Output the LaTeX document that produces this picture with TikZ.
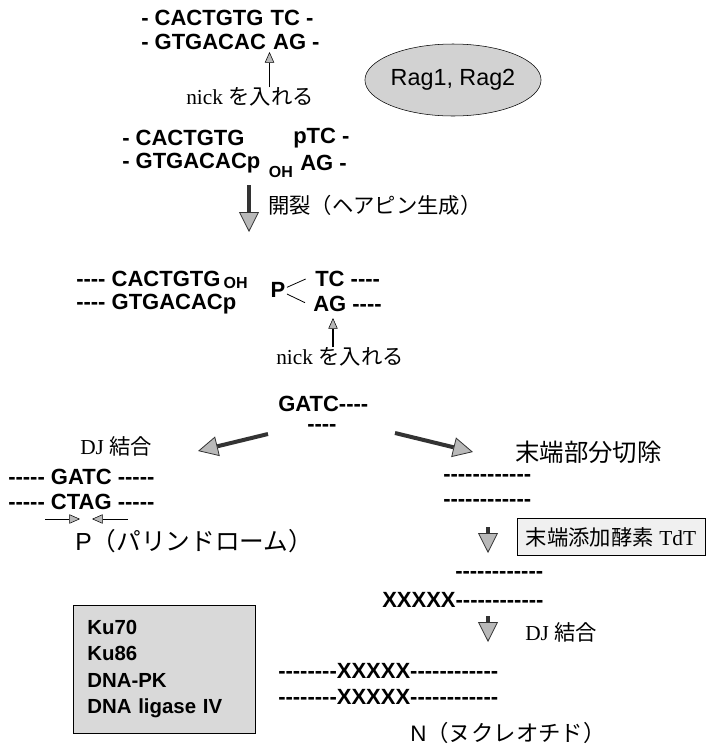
\documentclass[tikz,border=0pt]{standalone}
\usepackage{fontspec}
\setmainfont{Liberation Serif}
\setsansfont{Liberation Sans}[Ligatures=TeXOff]
\newfontfamily\jpfont{Noto Sans CJK JP}
\usetikzlibrary{arrows.meta,shapes.geometric,positioning,calc}

\begin{document}
\begin{tikzpicture}[
    x=0.75pt, y=-0.75pt,
    seq/.style={anchor=west, inner sep=0pt, font=\sffamily\bfseries\fontsize{16.5}{18}\selectfont},
    sub/.style={anchor=west, inner sep=0pt, font=\sffamily\bfseries\fontsize{12}{13}\selectfont},
    jtext/.style={anchor=west, inner sep=0pt, font=\fontsize{16}{18}\selectfont},
    enzbox/.style={rectangle, draw, fill=gray!30, minimum width=136.5pt, minimum height=96pt, text width=115pt, inner xsep=10.5pt, align=left, font=\sffamily\bfseries\fontsize{15.3}{19.7}\selectfont},
    tdtbox/.style={rectangle, draw, fill=gray!12, minimum width=141pt, minimum height=28pt, inner sep=2pt, font=\fontsize{16}{18}\selectfont},
    ragnode/.style={ellipse, draw, fill=gray!35, minimum width=111pt, minimum height=54pt, inner sep=0pt, font=\sffamily\fontsize{17.5}{19}\selectfont},
    bigarrow/.style={line width=3pt, draw=black!80, -{Triangle[length=15pt, width=15pt, fill=gray!55, line width=0.6pt]}},
    nickarrow/.style={line width=0.8pt, -{Triangle[length=8pt, width=7pt, fill=gray!55, line width=0.4pt]}},
    palarrow/.style={line width=0.6pt, -{Triangle[length=8pt, width=7pt, fill=gray!55, line width=0.4pt]}}
]
\useasboundingbox (0,0) rectangle (706,747);

\node[seq] (a1) at (141,18) {- CACTGTG};
\node[seq, right=5pt of a1] (a2) {TC -};
\node[seq] (b1) at (141,42) {- GTGACAC};
\node[seq, right=5pt of b1] (b2) {AG -};
\coordinate (nicktipA) at ($(b1.east)!0.5!(b2.west)+(0,10)$);
\node[jtext, anchor=center] (nickA) at (250,97) {nick {\jpfont を入れる}};
\draw[nickarrow] (nickA.north -| nicktipA) -- (nicktipA);

\node[ragnode] (rag) at (453,80) {Rag1, Rag2};

\node[seq] (c1) at (122,138) {- CACTGTG};
\node[seq] (c2) at (293,138) {pTC -};
\node[seq] (d1) at (122,163) {- GTGACACp};
\node[sub, right=6pt of d1.east, yshift=-7pt] (d1oh) {OH};
\node[seq] (d2) at (300,163) {AG -};

\coordinate (cleavetop) at (249,185);
\coordinate (cleavetip) at (249,232);
\draw[bigarrow] (cleavetop) -- (cleavetip);
\node[jtext] (cleave) at (268,205) {\jpfont 開裂（ヘアピン生成）};

\node[seq] (e1) at (76,279) {---- CACTGTG};
\node[sub, right=2pt of e1.east, yshift=-3pt] (e1oh) {OH};
\node[seq] (f1) at (76,304) {---- GTGACACp};
\node[seq, anchor=center] (pnode) at (278,290) {P};
\node[seq] (e2) at (315,279) {TC ----};
\node[seq] (f2) at (313,304) {AG ----};
\draw[line width=0.6pt] ([xshift=1pt,yshift=2pt]pnode.east) -- ([xshift=-7pt]e2.west);
\draw[line width=0.6pt] ([xshift=1pt,yshift=-3pt]pnode.east) -- ([xshift=-6pt,yshift=1pt]f2.west);
\coordinate (nicktipB) at (333,318);
\node[jtext, anchor=center] (nickB) at (340,357) {nick {\jpfont を入れる}};
\draw[nickarrow] (nickB.north -| nicktipB) -- (nicktipB);

\node[seq] (g1) at (278,404) {GATC----};
\node[seq] (g2) at (307,428) {----};

\coordinate (djtail) at (268,434);
\coordinate (djtip) at (198,451);
\draw[bigarrow] (djtail) -- (djtip);
\coordinate (cuttail) at (395,433);
\coordinate (cuttip) at (473,452);
\draw[bigarrow] (cuttail) -- (cuttip);

\node[jtext] (djleft) at (80,446) {DJ {\jpfont 結合}};
\node[seq] (h1) at (8,477) {----- GATC -----};
\node[seq] (h2) at (8,502) {----- CTAG -----};
\coordinate (palA) at (45,519);
\coordinate (palAtip) at (80,519);
\coordinate (palB) at (128,519);
\coordinate (palBtip) at (92,519);
\draw[palarrow] (palA) -- (palAtip);
\draw[palarrow] (palB) -- (palBtip);
\node[jtext] (palin) at (75,541) {\fontsize{18.5}{20}\selectfont\sffamily P{\jpfont（パリンドローム）}};

\node[jtext] (trim) at (515,452) {\jpfont\fontsize{18.3}{20}\selectfont 末端部分切除};
\node[seq] (i1) at (443,478) {------------};
\node[seq] (i2) at (443,503) {------------};
\coordinate (tdttop) at (488,527);
\coordinate (tdttip) at (488,553);
\draw[bigarrow] (tdttop) -- (tdttip);
\node[tdtbox] (tdt) at (611,537) {{\jpfont 末端添加酵素} TdT};

\node[seq] (j1) at (455,575) {------------};
\node[seq] (j2) at (382,600) {XXXXX------------};
\coordinate (jointop) at (488,616);
\coordinate (jointip) at (488,642);
\draw[bigarrow] (jointop) -- (jointip);
\node[jtext] (djright) at (525,632) {DJ {\jpfont 結合}};

\node[seq] (k1) at (278,671) {--------XXXXX------------};
\node[seq] (k2) at (278,697) {--------XXXXX------------};
\node[jtext] (nucl) at (410,733) {\fontsize{16.8}{18}\selectfont\sffamily N{\jpfont（ヌクレオチド）}};

\node[enzbox] (enzymes) at (164,669) {Ku70\\Ku86\\DNA-PK\\DNA ligase IV};
\end{tikzpicture}
\end{document}
